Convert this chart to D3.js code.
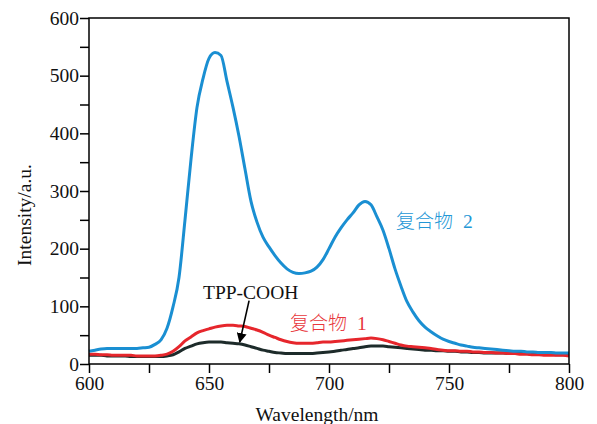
<!DOCTYPE html>
<html><head><meta charset="utf-8">
<script src="https://cdn.jsdelivr.net/npm/d3@7"></script>
<style>body{margin:0;background:#fff}svg{display:block}</style>
</head><body><svg id="c" width="597" height="424"></svg>
<script>
const wavelengths = [600,602.5,605,607.5,610,612.5,615,617.5,620,622.5,625,627.5,630,632.5,635,637.5,640,642.5,645,647.5,650,652.5,655,657.5,660,662.5,665,667.5,670,672.5,675,677.5,680,682.5,685,687.5,690,692.5,695,697.5,700,702.5,705,707.5,710,712.5,715,717.5,720,722.5,725,727.5,730,732.5,735,737.5,740,742.5,745,747.5,750,752.5,755,757.5,760,762.5,765,767.5,770,772.5,775,777.5,780,782.5,785,787.5,790,792.5,795,797.5,800];
const complex2 = [22,24,26,27,27,27,27,27,27,28,29,34,42,62,99,150,250,355,445,495,530,540,535,490,445,395,338,282,246,220,203,188,175,165,159,157,158,161,168,181,200,220,236,250,262,276,282,276,255,232,200,165,135,108,90,75,64,56,49,43,39,36,33,31,29,28,27,26,25,24,23,22,22,21,21,20,20,20,19,19,19];
const complex1 = [17,17,16,16,15,15,15,15,14,14,14,14,15,17,22,30,40,47,54,58,61,64,66,67,67,66,65,62,59,55,50,46,42,39,37,36,36,36,37,38,38,39,40,41,42,43,44,45,44,42,39,36,33,31,30,29,28,27,25,24,23,23,22,22,21,21,20,20,19,19,18,18,17,17,16,16,15,15,15,15,14];
const tppCOOH = [15,15,15,14,14,14,14,13,13,13,13,13,13,14,16,21,27,31,35,37,38,38,38,37,36,35,33,30,27,24,22,20,19,18,18,18,18,18,19,20,21,22,24,25,27,28,30,31,31,31,30,29,28,27,26,25,24,24,23,23,22,22,21,21,20,20,19,19,19,19,18,18,18,18,17,17,17,17,16,16,16];
const xTicks = [600,625,650,675,700,725,750,775,800];
const xLabels = [600,650,700,750,800];
const yTicks = [0,50,100,150,200,250,300,350,400,450,500,550,600];
const yLabels = [0,100,200,300,400,500,600];
const seriesNames = ["复合物 2","复合物 1","TPP-COOH"];

const svg = d3.select("#c");
const L=89, R=569, T=18, B=364;
const x = d3.scaleLinear().domain([600,800]).range([L,R]);
const y = d3.scaleLinear().domain([0,600]).range([B,T]);
const serif = "'Liberation Serif','Times New Roman',serif";
const fs = 19.5;

const series = [
  {name:seriesNames[0], vals:complex2, color:"#1a8fd2"},
  {name:seriesNames[1], vals:complex1, color:"#e6262c"},
  {name:seriesNames[2], vals:tppCOOH, color:"#1d2b2a"}
];
const line = d3.line().x((d,i)=>x(wavelengths[i])).y(d=>y(d)).curve(d3.curveMonotoneX);
[series[2],series[1],series[0]].forEach(s=>{
  svg.append("path").attr("d",line(s.vals)).attr("fill","none")
    .attr("stroke",s.color).attr("stroke-width",3).attr("stroke-linejoin","round");
});

svg.append("rect").attr("x",L).attr("y",T).attr("width",R-L).attr("height",B-T)
  .attr("fill","none").attr("stroke","#000").attr("stroke-width",1.5);

const xa = svg.append("g").attr("transform",`translate(0,${B})`)
  .call(d3.axisBottom(x).tickValues(xTicks).tickSize(9).tickPadding(3)
    .tickFormat(d=>xLabels.includes(d)?d:""));
const ya = svg.append("g").attr("transform",`translate(${L},0)`)
  .call(d3.axisLeft(y).tickValues(yTicks).tickSize(9).tickPadding(1)
    .tickFormat(d=>yLabels.includes(d)?d:""));
[xa,ya].forEach(a=>{
  a.select(".domain").remove();
  a.selectAll("line").attr("stroke","#000").attr("stroke-width",1.5);
  a.selectAll("text").attr("font-family",serif).attr("font-size",fs).attr("fill","#111");
});

svg.append("text").attr("x",317).attr("y",421).attr("text-anchor","middle")
  .attr("font-family",serif).attr("font-size",fs).attr("fill","#111").text("Wavelength/nm");
svg.append("text").attr("transform","translate(31,215) rotate(-90)").attr("text-anchor","middle")
  .attr("font-family",serif).attr("font-size",fs).attr("fill","#111").text("Intensity/a.u.");

const cjk = "'Noto Sans CJK SC','Noto Sans CJK JP',sans-serif";
function label(px,py,str,color){
  const parts = str.split(" ");
  const t = svg.append("text").attr("x",px).attr("y",py).attr("fill",color);
  t.append("tspan").attr("font-family",cjk).attr("font-weight",300).attr("font-size",19).text(parts[0]);
  t.append("tspan").attr("dx",10).attr("font-family",serif).attr("font-size",fs).text(parts[1]);
}
label(396,228,seriesNames[0],"#2497d6");
label(290,330,seriesNames[1],"#e8373c");
svg.append("text").attr("x",203).attr("y",299).attr("font-family",serif).attr("font-size",fs)
  .attr("fill","#111").text(seriesNames[2]);

svg.append("defs").append("marker").attr("id","ah").attr("viewBox","0 0 10 10")
  .attr("refX",9).attr("refY",5).attr("markerWidth",10).attr("markerHeight",10)
  .attr("markerUnits","userSpaceOnUse").attr("orient","auto")
  .append("path").attr("d","M0,0L10,5L0,10z").attr("fill","#000");
svg.append("line").attr("x1",x(666.7)).attr("y1",y(110)).attr("x2",x(662.8)).attr("y2",y(38))
  .attr("stroke","#000").attr("stroke-width",1.6).attr("marker-end","url(#ah)");
</script></body></html>
